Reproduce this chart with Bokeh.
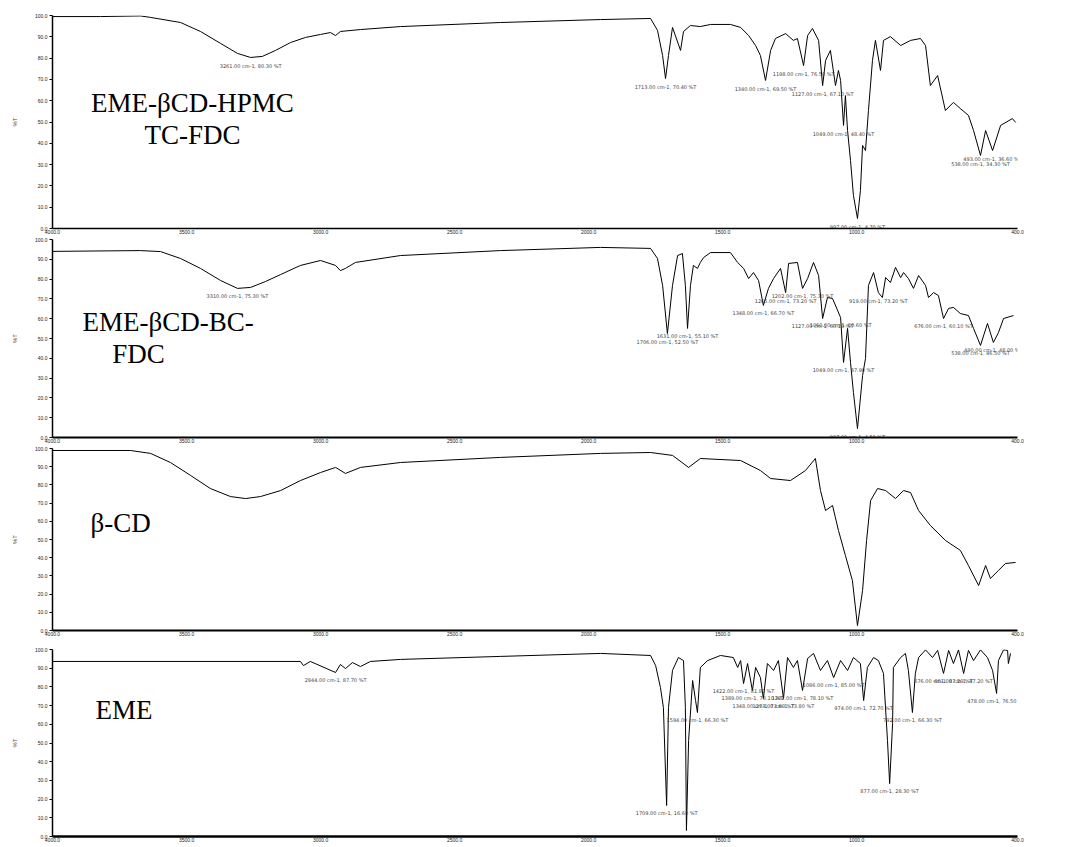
from bokeh.plotting import figure
from bokeh.layouts import column
from bokeh.models import Range1d, FixedTicker, Label, ColumnDataSource, PrintfTickFormatter
from bokeh.core.properties import value
from bokeh.embed import file_html
from bokeh.resources import INLINE

# ---------------- data (wavenumber cm-1, %T) ----------------
p1_wn = [4000, 3821, 3672, 3634, 3522, 3448, 3373, 3310, 3261, 3217, 3168, 3112, 3056, 3000, 2963,
         2944, 2926, 2851, 2702,
         2329, 1956, 1769, 1743, 1724, 1713, 1702, 1687, 1657, 1646, 1620, 1583, 1545, 1471, 1433,
         1403, 1377, 1359, 1340, 1321, 1303, 1265, 1236, 1221, 1198, 1183, 1165, 1142, 1127, 1116,
         1098, 1079, 1068, 1060, 1049, 1042, 1034, 1023, 1012, 997, 986, 978, 967, 956, 941, 930,
         911, 900, 874, 836, 799, 762, 743, 725, 698, 669, 639, 613, 583, 564, 538, 519, 493, 463,
         419, 407]
p1_t = [99.5, 99.5, 99.8, 99.1, 96.7, 92.5, 86.9, 82.2, 80.3, 80.8, 83.6, 87.3, 89.7, 91.1, 92.0,
        90.6, 92.5, 93.4, 94.8,
        96.7, 98.1, 98.6, 93.0, 81.2, 70.4, 81.2, 94.4, 83.6, 92.5, 95.3, 94.8, 95.8, 95.8, 94.4,
        90.6, 85.9, 81.2, 69.5, 83.6, 89.2, 91.5, 88.3, 89.2, 76.5, 90.6, 93.9, 88.3, 67.1, 78.9,
        83.6, 67.1, 74.2, 69.5, 48.4, 62.4, 46.0, 31.9, 15.5, 4.7, 17.8, 39.0, 36.6, 55.4, 78.9, 88.3,
        74.2, 88.3, 90.1, 85.9, 88.3, 89.2, 85.9, 67.1, 71.8, 55.4, 59.2, 56.3, 53.1, 46.0, 34.3,
        46.0, 36.6, 48.4, 51.6, 49.8]

p2_wn = [4000, 3672, 3597, 3522, 3448, 3373, 3310, 3261, 3205, 3149, 3075, 3000, 2944, 2926, 2907,
         2870, 2702, 2329, 1956,
         1769, 1743, 1724, 1706, 1687, 1668, 1650, 1639, 1631, 1620, 1609, 1594, 1583, 1571, 1545,
         1471, 1444, 1422, 1403, 1385, 1366, 1348, 1329, 1310, 1284, 1265, 1254, 1221, 1202, 1183,
         1161, 1142, 1127, 1109, 1090, 1060, 1049, 1034, 1023, 1012, 997, 978, 967, 956, 937, 919,
         904, 892, 874, 855, 836, 825, 807, 788, 769, 743, 732, 713, 695, 676, 657, 639, 613, 583,
         564, 538, 512, 490, 471, 452, 415]
p2_t = [94.0, 94.4, 93.9, 90.4, 85.4, 79.3, 75.3, 75.8, 78.8, 82.3, 86.9, 89.4, 86.9, 84.3, 85.4,
        88.4, 91.9, 94.4, 96.0,
        95.5, 90.4, 76.8, 52.5, 76.8, 91.9, 92.9, 76.8, 55.1, 76.8, 86.9, 85.4, 88.4, 90.9, 93.4,
        93.4, 88.4, 85.4, 80.3, 83.3, 79.3, 66.7, 75.3, 80.3, 85.4, 73.2, 87.9, 88.4, 75.3, 80.3,
        88.4, 81.8, 60.1, 70.7, 70.2, 60.6, 37.9, 55.1, 37.9, 22.7, 4.5, 31.3, 39.9, 76.8, 83.3, 73.2,
        70.7, 80.8, 78.3, 85.9, 80.8, 83.3, 80.3, 75.3, 81.8, 76.8, 70.7, 73.2, 71.7, 60.1, 65.2,
        65.7, 62.6, 61.6, 55.1, 46.5, 57.6, 48.0, 53.0, 60.1, 61.6]

p3_wn = [4000, 3709, 3634, 3560, 3485, 3411, 3336, 3280, 3224, 3149, 3075, 3000, 2944, 2907, 2851,
         2702, 2329, 1956, 1769, 1687,
         1627, 1583, 1433, 1359, 1321, 1247, 1191, 1154, 1135, 1116, 1090, 1068, 1042, 1016, 997,
         978, 963, 948, 922, 892, 855, 825, 799, 769, 725, 669, 613, 583, 545, 519, 501, 471, 445, 407]
p3_t = [98.9, 98.9, 97.3, 92.3, 85.2, 78.0, 73.6, 72.5, 73.6, 76.9, 82.4, 86.8, 89.6, 86.3, 89.6,
        92.3, 95.1, 97.3, 97.8, 96.2,
        89.6, 94.5, 93.4, 87.9, 83.5, 82.4, 87.9, 94.5, 76.9, 65.9, 68.7, 55.0, 41.2, 27.5, 2.7,
        22.0, 49.5, 71.4, 78.0, 76.9, 72.5, 76.9, 75.8, 65.9, 57.7, 49.5, 44.0, 35.7, 24.7, 35.7,
        28.6, 33.0, 36.8, 37.4]

p4_wn = [4000, 3075, 3064, 3038, 2944, 2926, 2907, 2881, 2851, 2814, 2702, 2329, 1956, 1769, 1750,
         1732, 1721, 1709, 1702, 1687, 1665, 1646, 1639, 1635, 1627, 1612, 1601, 1594, 1583, 1556,
         1508, 1460, 1444, 1433, 1422, 1407, 1389, 1377, 1359, 1348, 1333, 1310, 1292, 1273, 1258,
         1236, 1221, 1202, 1183, 1161, 1135, 1109, 1086, 1060, 1034, 1012, 986, 974, 960, 937, 919,
         900, 885, 877, 866, 863, 836, 818, 807, 792, 781, 769, 743, 717, 698, 676, 657, 639, 620,
         601, 583, 564, 538, 512, 493, 478, 471, 452, 437, 434, 426]
p4_t = [93.6, 93.6, 91.4, 93.6, 87.7, 92.0, 89.8, 93.0, 90.9, 93.6, 94.7, 96.3, 97.9, 96.8, 91.4,
        79.7, 69.0, 16.6, 69.0, 88.8, 95.7, 94.1, 69.0, 3.2, 51.3, 83.4, 72.7, 66.3, 90.4, 94.1,
        96.8, 95.7, 90.4, 94.1, 81.8, 92.5, 78.1, 90.4, 85.0, 73.8, 92.5, 88.8, 94.1, 73.8, 95.7,
        90.4, 94.1, 78.1, 95.2, 97.9, 88.8, 94.1, 85.0, 94.1, 88.8, 95.7, 92.5, 72.7, 90.4, 95.7, 94.1,
        87.2, 51.3, 28.3, 60.4, 90.4, 95.7, 97.9, 88.8, 66.3, 87.2, 95.7, 99.8, 95.7, 99.5, 87.2,
        99.5, 92.5, 99.8, 87.2, 99.5, 94.1, 99.8, 95.7, 88.8, 76.5, 94.1, 99.8, 99.5, 92.5, 97.9]

# peak positions annotated on each spectrum
p1_peaks = [3261, 1713, 1340, 1198, 1127, 1049, 997, 538, 493]
p2_peaks = [3310, 1706, 1631, 1348, 1265, 1202, 1127, 1060, 1049, 997, 919, 676, 538, 490]
p3_peaks = []
p4_peaks = [2944, 1709, 1635, 1594, 1422, 1389, 1348, 1273, 1202, 1086, 974, 877, 792, 676, 601, 478]

sample_names = [["EME-\u03b2CD-HPMC", "TC-FDC"], ["EME-\u03b2CD-BC-", "FDC"], ["\u03b2-CD"], ["EME"]]

x_ticks = [4000, 3500, 3000, 2500, 2000, 1500, 1000, 400]
y_ticks = [0, 10, 20, 30, 40, 50, 60, 70, 80, 90, 100]

# ---------------- layout ----------------
W = 1062
LEFT = 52
FRAME_W = 965
panels = [
    dict(wn=p1_wn, t=p1_t, peaks=p1_peaks, top=15, frame=213, bottom=8, axw=1.5,
         labels=[(3478, 58.7, "center"), (3478, 43.7, "center")]),
    dict(wn=p2_wn, t=p2_t, peaks=p2_peaks, top=3, frame=198, bottom=8, axw=2,
         labels=[(3888, 58.1, "left"), (3777, 42.4, "left")]),
    dict(wn=p3_wn, t=p3_t, peaks=p3_peaks, top=3, frame=182, bottom=10, axw=2,
         labels=[(3858, 58.8, "left")]),
    dict(wn=p4_wn, t=p4_t, peaks=p4_peaks, top=9, frame=187, bottom=9, axw=2.5,
         labels=[(3840, 67.4, "left")]),
]

figs = []
for i, cfg in enumerate(panels):
    h = cfg["top"] + cfg["frame"] + cfg["bottom"]
    p = figure(width=W, height=h, output_backend="svg", toolbar_location=None,
               x_range=Range1d(4000, 400), y_range=Range1d(0, 100),
               min_border_left=LEFT, min_border_right=W - LEFT - FRAME_W,
               min_border_top=cfg["top"], min_border_bottom=cfg["bottom"])
    p.outline_line_color = None
    p.xgrid.visible = False
    p.ygrid.visible = False
    p.background_fill_color = "white"
    p.border_fill_color = "white"

    p.xaxis.ticker = FixedTicker(ticks=x_ticks)
    p.xaxis.formatter = PrintfTickFormatter(format="%.1f")
    p.xaxis.major_tick_out = 0
    p.xaxis.major_tick_in = 0
    p.xaxis.minor_tick_out = 0
    p.xaxis.minor_tick_in = 0
    p.xaxis.major_label_standoff = 1
    p.xaxis.major_label_text_font_size = "5px"
    p.xaxis.major_label_text_color = "#222222"
    p.xaxis.axis_line_width = cfg["axw"]
    p.xaxis.axis_line_color = "black"

    p.yaxis.ticker = FixedTicker(ticks=y_ticks)
    p.yaxis.formatter = PrintfTickFormatter(format="%.1f")
    p.yaxis.major_tick_out = 3
    p.yaxis.major_tick_in = 0
    p.yaxis.minor_tick_out = 0
    p.yaxis.minor_tick_in = 0
    p.yaxis.major_label_standoff = 2
    p.yaxis.major_label_text_font_size = "5px"
    p.yaxis.major_label_text_color = "#222222"
    p.yaxis.axis_label = "%T"
    p.yaxis.axis_label_text_font_size = "6px"
    p.yaxis.axis_label_text_font_style = "normal"
    p.yaxis.axis_label_standoff = 14
    p.yaxis.axis_line_width = 1.5
    p.yaxis.axis_line_color = "black"

    src = ColumnDataSource(data=dict(wn=cfg["wn"], t=cfg["t"]))
    p.line("wn", "t", source=src, line_color="black", line_width=1)

    # peak annotations
    if cfg["peaks"]:
        pk_t = []
        pk_txt = []
        for w in cfg["peaks"]:
            j = min(range(len(cfg["wn"])), key=lambda k: abs(cfg["wn"][k] - w))
            pk_t.append(cfg["t"][j] - 2.5)
            pk_txt.append(f"{cfg['wn'][j]:.2f} cm-1, {cfg['t'][j]:.2f} %T")
        psrc = ColumnDataSource(data=dict(x=cfg["peaks"], y=pk_t, txt=pk_txt))
        p.text("x", "y", text="txt", source=psrc, text_font_size="5px",
               text_color="#444444", text_align="center", text_baseline="top",
               text_font=value("DejaVu Sans"))

    for (lx, ly, al), txt in zip(cfg["labels"], sample_names[i]):
        p.add_layout(Label(x=lx, y=ly, text=txt, text_font="Liberation Serif",
                           text_font_size="27px", text_color="black",
                           text_align=al, text_baseline="middle"))
    figs.append(p)

layout = column(*figs, spacing=0)
open("out.html", "w").write(file_html(layout, INLINE))
